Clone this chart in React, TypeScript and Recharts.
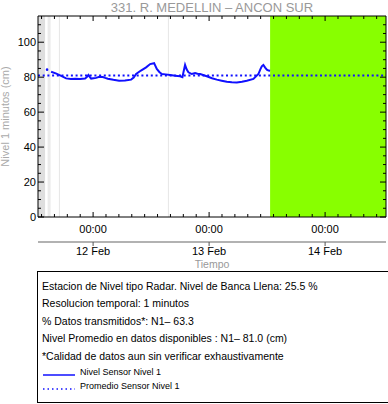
import React from 'react';
import { ComposedChart, Line, Scatter, XAxis, YAxis, ReferenceArea, ReferenceLine } from 'recharts';

// hours relative to 12 Feb 00:00
const hours = [
  -8.69, -7.6, -6.5, -5.59, -4.6, -3.72, -2.7, -1.66, -1.3, -0.97, -0.7, -0.41, 0.1, 0.62, 1.3, 2.0, 2.5,
  3.04, 4.2, 5.38, 6.6, 7.86, 8.4, 8.9, 9.9, 10.97, 11.8, 12.62, 13.18, 13.7, 14.21, 15.0, 15.93, 17.0,
  18.0, 18.48, 18.75, 19.03, 19.35, 19.72, 20.42, 21.1, 21.6, 22.14, 23.52, 24.6, 25.59, 26.6, 27.66,
  28.7, 29.73, 30.8, 31.8, 33.17, 34.2, 34.6, 34.9, 35.23, 35.6, 35.94, 36.3, 36.62,
];
const levels = [
  83.1, 82.0, 80.6, 79.3, 79.0, 79.1, 78.9, 79.2, 80.0, 81.3, 80.2, 79.2, 79.4, 79.6, 80.2, 80.1, 79.6,
  79.1, 78.5, 78.0, 78.1, 78.6, 79.8, 81.8, 83.8, 85.6, 87.5, 88.0, 84.7, 83.0, 81.8, 81.6, 81.2, 80.8,
  80.5, 80.0, 83.5, 87.0, 84.5, 82.8, 81.8, 82.4, 82.0, 81.8, 80.5, 79.4, 78.6, 78.0, 77.4, 77.1, 77.0,
  77.4, 78.0, 79.0, 81.8, 84.5, 86.2, 87.0, 85.5, 84.3, 83.8, 83.7,
];
const strayHours = [-9.52];
const strayLevels = [84.3];
const MEAN_LEVEL = 81.0;

const X_DOMAIN = [-11.4, 60.6];
const Y_DOMAIN = [0, 115];
const dayTicks = [0, 24, 48];
const dayLabels = ['12 Feb', '13 Feb', '14 Feb'];
const hourTicks = Array.from({ length: 27 }, (_, i) => ((i - 4) * 8) / 3);
const levelTicks = Array.from({ length: 23 }, (_, i) => i * 5);

const grayBands = [
  [-11.4, -9.93, '#dedede'],
  [-9.41, -8.79, '#ebebeb'],
];
const gapLines = [-6.97, 15.58];
const noDataFrom = 36.62;

const series = hours.map((h, i) => ({ h, level: levels[i] }));
const stray = strayHours.map((h, i) => ({ h, level: strayLevels[i] }));

const FONT = '"Liberation Sans", Arial, Helvetica, sans-serif';
const BLUE = '#1010ff';

const isDay = (v: number) => Math.abs(v % 24) < 1e-6;

const BottomTick = ({ x, y, payload }: any) => {
  const major = isDay(payload.value);
  return (
    <g>
      <line x1={x} x2={x} y1={y} y2={y - (major ? 5 : 3)} stroke="#000" />
      {major && (
        <text x={x} y={y + 16} textAnchor="middle" fontSize={11} fill="#000" fontFamily={FONT}>
          00:00
        </text>
      )}
    </g>
  );
};

const TopTick = ({ x, y, payload }: any) => (
  <line x1={x} x2={x} y1={y} y2={y + (isDay(payload.value) ? 5 : 3)} stroke="#000" />
);

const DateTick = ({ x, y, payload }: any) => (
  <g>
    <line x1={x} x2={x} y1={y} y2={y + 4} stroke="#555" />
    <text x={x} y={y + 13} textAnchor="middle" fontSize={11} fill="#000" fontFamily={FONT}>
      {dayLabels[dayTicks.indexOf(payload.value)]}
    </text>
  </g>
);

const LeftTick = ({ x, y, payload }: any) => {
  const major = payload.value % 20 === 0;
  return (
    <g>
      <line x1={x} x2={x + (major ? 6 : 3)} y1={y} y2={y} stroke="#000" />
      {major && (
        <text x={x - 2} y={y + 4} textAnchor="end" fontSize={11} fill="#000" fontFamily={FONT}>
          {payload.value}
        </text>
      )}
    </g>
  );
};

const RightTick = ({ x, y, payload }: any) => (
  <line x1={x} x2={x - (payload.value % 20 === 0 ? 6 : 3)} y1={y} y2={y} stroke="#000" />
);

export default function App() {
  return (
    <div style={{ position: 'absolute', left: 0, top: 0, width: 388, height: 404, background: '#fff', fontFamily: FONT }}>
      <ComposedChart width={388} height={272} data={series} margin={{ top: 0, right: 1, bottom: 0, left: 0 }}>
        <XAxis
          xAxisId="a_main"
          dataKey="h"
          type="number"
          domain={X_DOMAIN}
          allowDataOverflow
          ticks={hourTicks}
          interval={0}
          height={25}
          tickSize={0}
          tickMargin={0}
          tickLine={false}
          tick={<BottomTick />}
          axisLine={{ stroke: '#000' }}
        />
        <XAxis
          xAxisId="b_date"
          dataKey="h"
          type="number"
          domain={X_DOMAIN}
          allowDataOverflow
          ticks={dayTicks}
          interval={0}
          height={30}
          tickSize={0}
          tickMargin={0}
          tickLine={false}
          tick={<DateTick />}
          axisLine={{ stroke: '#999', strokeWidth: 1.5 }}
          label={({ viewBox }: any) => (
            <text x={viewBox.x + viewBox.width / 2} y={viewBox.y + 26} textAnchor="middle" fontSize={10.5} fill="#999" fontFamily={FONT}>
              Tiempo
            </text>
          )}
        />
        <XAxis
          xAxisId="top"
          orientation="top"
          dataKey="h"
          type="number"
          domain={X_DOMAIN}
          allowDataOverflow
          ticks={hourTicks}
          interval={0}
          height={16}
          tickSize={0}
          tickMargin={0}
          tickLine={false}
          tick={<TopTick />}
          axisLine={{ stroke: '#000' }}
          label={({ viewBox }: any) => (
            <text x={viewBox.x + viewBox.width / 2} y={viewBox.y + 12} textAnchor="middle" fontSize={13} fill="#999" fontFamily={FONT}>
              331. R. MEDELLIN – ANCON SUR
            </text>
          )}
        />
        <YAxis
          yAxisId="l"
          type="number"
          domain={Y_DOMAIN}
          allowDataOverflow
          ticks={levelTicks}
          interval={0}
          width={38}
          tickSize={0}
          tickMargin={0}
          tickLine={false}
          tick={<LeftTick />}
          axisLine={{ stroke: '#000' }}
          label={({ viewBox }: any) => {
            const cx = viewBox.x + 9;
            const cy = viewBox.y + viewBox.height / 2;
            return (
              <text x={cx} y={cy} transform={`rotate(-90 ${cx} ${cy})`} textAnchor="middle" fontSize={11} fill="#aaa" fontFamily={FONT}>
                Nivel 1 minutos (cm)
              </text>
            );
          }}
        />
        <YAxis
          yAxisId="r"
          orientation="right"
          type="number"
          domain={Y_DOMAIN}
          allowDataOverflow
          ticks={levelTicks}
          interval={0}
          width={1}
          tickSize={0}
          tickMargin={0}
          tickLine={false}
          tick={<RightTick />}
          axisLine={{ stroke: '#000' }}
        />
        {grayBands.map(([a, b, c], i) => (
          <ReferenceArea key={'g' + i} xAxisId="a_main" yAxisId="l" x1={a as number} x2={b as number} y1={Y_DOMAIN[0]} y2={Y_DOMAIN[1]} fill={c as string} fillOpacity={1} stroke="none" />
        ))}
        {gapLines.map((h, i) => (
          <ReferenceLine key={'v' + i} xAxisId="a_main" yAxisId="l" x={h} stroke="#e6e6e6" strokeWidth={1} />
        ))}
        <ReferenceArea xAxisId="a_main" yAxisId="l" x1={noDataFrom} x2={X_DOMAIN[1]} y1={Y_DOMAIN[0]} y2={Y_DOMAIN[1]} fill="#88ff00" fillOpacity={1} stroke="none" />
        <Line
          xAxisId="a_main"
          yAxisId="l"
          dataKey="level"
          type="linear"
          stroke={BLUE}
          strokeWidth={2}
          dot={false}
          isAnimationActive={false}
        />
        <Scatter xAxisId="a_main" yAxisId="l" data={stray} dataKey="level" fill={BLUE} shape={(p: any) => <circle cx={p.cx} cy={p.cy} r={1.3} fill={BLUE} />} isAnimationActive={false} />
        <ReferenceLine xAxisId="a_main" yAxisId="l" y={MEAN_LEVEL} stroke={BLUE} strokeWidth={2} strokeDasharray="2 2.7" />
      </ComposedChart>
      <div
        style={{
          position: 'absolute',
          left: 37,
          top: 271,
          width: 347,
          height: 124,
          border: '1px solid #000',
          fontSize: 10.5,
          color: '#000',
          lineHeight: '17.4px',
          padding: '6px 0 0 4px',
          boxSizing: 'content-box',
        }}
      >
        <div>Estacion de Nivel tipo Radar. Nivel de Banca Llena: 25.5 %</div>
        <div>Resolucion temporal: 1 minutos</div>
        <div>% Datos transmitidos*: N1– 63.3</div>
        <div>Nivel Promedio en datos disponibles : N1– 81.0 (cm)</div>
        <div>*Calidad de datos aun sin verificar exhaustivamente</div>
        <div style={{ display: 'flex', alignItems: 'center', fontSize: 9, lineHeight: '14px' }}>
          <svg width={38} height={14}><line x1={1} x2={33} y1={10} y2={10} stroke={BLUE} strokeWidth={1.5} /></svg>
          <span>Nivel Sensor Nivel 1</span>
        </div>
        <div style={{ display: 'flex', alignItems: 'center', fontSize: 9, lineHeight: '14px' }}>
          <svg width={38} height={14}><line x1={1} x2={33} y1={10} y2={10} stroke={BLUE} strokeWidth={1.5} strokeDasharray="1.5 3" /></svg>
          <span>Promedio Sensor Nivel 1</span>
        </div>
      </div>
    </div>
  );
}
